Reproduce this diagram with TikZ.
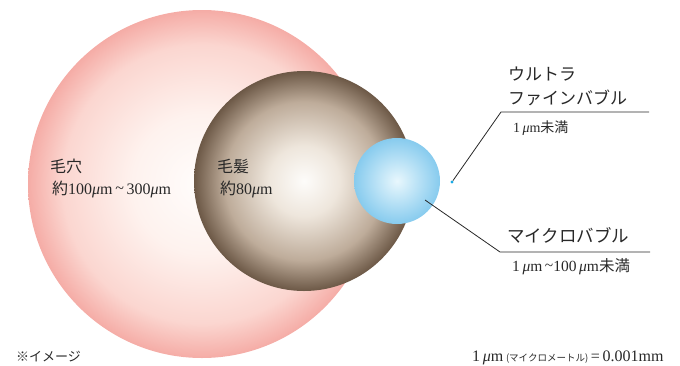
\documentclass[tikz,border=0pt]{standalone}
\usepackage{fontspec}
\setmainfont{Liberation Serif}
\newfontfamily\jp{Noto Sans CJK JP}
\definecolor{pinkc}{RGB}{255,253,252}
\definecolor{pinkm}{RGB}{254,242,238}
\definecolor{pinkm2}{RGB}{251,214,208}
\definecolor{pinke}{RGB}{245,172,166}
\definecolor{brc}{RGB}{253,252,250}
\definecolor{brm1}{RGB}{238,230,220}
\definecolor{brm2}{RGB}{190,172,154}
\definecolor{bre}{RGB}{108,88,70}
\definecolor{blc}{RGB}{232,247,253}
\definecolor{ble}{RGB}{135,203,238}
\definecolor{dotc}{RGB}{25,170,230}
\definecolor{txt}{RGB}{40,40,40}
\pgfdeclareradialshading{pinkball}{\pgfpoint{0bp}{0bp}}{color(0bp)=(pinkc); color(10bp)=(pinkm); color(20bp)=(pinkm2); color(25bp)=(pinke); color(50bp)=(pinke)}
\pgfdeclareradialshading{brownball}{\pgfpoint{0bp}{0bp}}{color(0bp)=(brc); color(8bp)=(brm1); color(18bp)=(brm2); color(25bp)=(bre); color(50bp)=(bre)}
\pgfdeclareradialshading{blueball}{\pgfpoint{0bp}{0bp}}{color(0bp)=(blc); color(25bp)=(ble); color(50bp)=(ble)}
\newcommand{\mum}{\textit{μ}m}
\tikzset{
  lbl/.style={anchor=base west, inner sep=0pt, text=txt},
  big/.style={lbl, font=\jp\fontsize{17}{19}\selectfont},
  small/.style={lbl, font=\fontsize{16}{18}\selectfont},
  leader/.style={draw=txt, line width=0.8pt},
}
\begin{document}
\begin{tikzpicture}[x=1pt,y=-1pt]
\useasboundingbox (0,0) rectangle (680,365);
% circles
\shade[shading=pinkball] (202,184) circle (174);
\shade[shading=brownball] (304,181) circle (110);
\shade[shading=blueball] (397,181) circle (43);
\node[circle, fill=dotc, inner sep=0pt, minimum size=3.2pt] (ub) at (452,182) {};
% labels left
\node[big, font=\jp\fontsize{16}{18}\selectfont] (kea) at (50,172) {毛穴};
\node[small] (keaS) at (52,194) {{\jp 約}100\mum\,\raisebox{1pt}{\textasciitilde}\,300\mum};
\node[big, font=\jp\fontsize{16}{18}\selectfont] (kep) at (217,172) {毛髪};
\node[small] (kepS) at (220,194) {{\jp 約}80\mum};
% ultra fine bubble
\node[big] (u1) at (508,80) {ウルトラ};
\node[big] (u2) at (508,104) {ファインバブル};
\node[small, font=\fontsize{14}{16}\selectfont] (u3) at (513,132) {1\,\mum{\jp 未満}};
\coordinate (uk) at (501,112);
\coordinate (ue) at (649,112);
\draw[leader] (ub) -- (uk) -- (ue);
% micro bubble
\node[big, font=\jp\fontsize{17.5}{19}\selectfont] (m1) at (507,242) {マイクロバブル};
\node[small, font=\fontsize{15.5}{17}\selectfont] (m2) at (512,271) {1\,\mum\,\raisebox{1pt}{\textasciitilde}100\,\mum{\jp 未満}};
\coordinate (ms) at (425,200);
\coordinate (mk) at (500,252);
\coordinate (me) at (650,252);
\draw[leader] (ms) -- (mk) -- (me);
% footer
\node[lbl, font=\jp\fontsize{13}{15}\selectfont] (note) at (16,361) {※イメージ};
\node[lbl, font=\fontsize{16}{18}\selectfont] (unit) at (472,361) {1\,\mum\,{\jp\fontsize{9.5}{11}\selectfont (マイクロメートル)}\,=\,0.001mm};
\end{tikzpicture}
\end{document}
